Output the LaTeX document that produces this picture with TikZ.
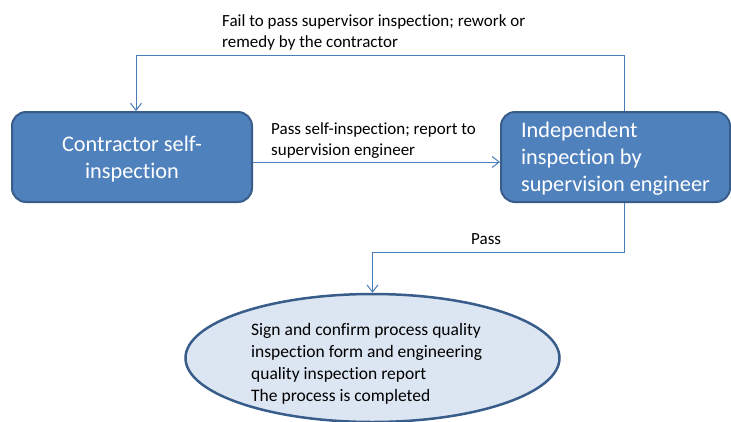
\documentclass[tikz,border=0pt]{standalone}
\usepackage{fontspec}
\setmainfont{Carlito}[Ligatures={NoCommon,NoRare,NoDiscretionary}]
\usetikzlibrary{shapes.geometric,arrows.meta}
\definecolor{boxfill}{HTML}{4F81BD}
\definecolor{boxdraw}{HTML}{385D8A}
\definecolor{connc}{HTML}{4A7EBB}
\definecolor{ellfill}{HTML}{DCE6F2}
\tikzset{
  procbox/.style={draw=boxdraw, line width=2pt, fill=boxfill, rounded corners=14pt,
    text=white, font=\fontsize{22.3}{27}\selectfont, minimum height=90pt, inner sep=0pt},
  endell/.style={ellipse, draw=boxdraw, line width=2.5pt, fill=ellfill,
    minimum width=374pt, minimum height=128pt, inner sep=0pt},
  conn/.style={draw=connc, line width=1pt},
  arr/.style={-{Straight Barb[length=7pt,width=11pt]}},
  lbl/.style={font=\fontsize{17}{21}\selectfont, align=left, inner sep=0pt}
}
\begin{document}
\begin{tikzpicture}[x=1pt,y=-1pt]
\useasboundingbox (0,0) rectangle (731,421);
\node[procbox, minimum width=240pt, align=center, text depth=-1pt] (L) at (132,157) {Contractor self-\\inspection};
\node[procbox, minimum width=229pt, align=left, text depth=-7pt] (R) at (615.5,157) {Independent\\inspection by\\supervision engineer};
\node[endell] (E) at (372.5,358) {};
\node[lbl, font=\fontsize{17.5}{22}\selectfont, anchor=north west] (Et) at (251,323) {Sign and confirm process quality\\inspection form and engineering\\quality inspection report\\The process is completed};
\coordinate (m) at (0,162);
\coordinate (t1) at (624,55);
\coordinate (t2) at (136,55);
\coordinate (b1) at (624,252);
\draw[conn,arr] (L.east |- m) -- (R.west |- m);
\draw[conn,arr] (R.north -| t1) -- (t1) -| (L.north -| t2);
\draw[conn,arr] (R.south -| b1) -- (b1) -| (E.north);
\node[lbl, anchor=north west] (f) at (222,14) {Fail to pass supervisor inspection; rework or\\remedy by the contractor};
\node[lbl, anchor=north west] (p) at (271,122) {Pass self-inspection; report to\\supervision engineer};
\node[lbl, anchor=north west] (q) at (471,233) {Pass};
\end{tikzpicture}
\end{document}
